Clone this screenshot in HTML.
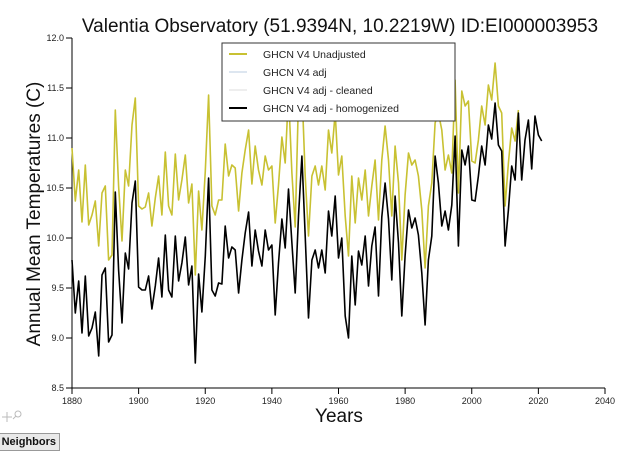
<!DOCTYPE html>
<html><head><meta charset="utf-8"><style>
body{margin:0;background:#fff;width:639px;height:449px;overflow:hidden;position:relative;font-family:"Liberation Sans",sans-serif}
svg{position:absolute;left:0;top:0}
.btn{position:absolute;left:-2px;top:433px;width:62px;height:18px;background:#e9e9e9;border:1px solid #999;box-sizing:border-box;overflow:hidden;white-space:nowrap}
.btn span{position:absolute;right:3px;top:0;font:bold 11px "Liberation Sans",sans-serif;line-height:17px;color:#111;white-space:nowrap}
</style></head><body>
<svg width="639" height="449">
<g id="axes"></g>
<g id="lines"></g>
<text x="340" y="32" font-size="19" text-anchor="middle" fill="#111">Valentia Observatory (51.9394N, 10.2219W) ID:EI000003953</text>
<text x="339" y="422" font-size="19" text-anchor="middle" fill="#111">Years</text>
<text transform="translate(40,214) rotate(-90)" font-size="19" text-anchor="middle" fill="#111">Annual Mean Temperatures (C)</text>
<g>
<rect x="222" y="43" width="233" height="78" fill="#fff" stroke="#333" stroke-width="1"/>
<g id="legend"></g>
</g>
<g fill="none" stroke="#bbb" stroke-width="1">
<path d="M2 417h10M7 412v10"/><circle cx="18" cy="414" r="3"/><path d="M16 416l-3 3"/>
</g>
</svg>
<div class="btn"><span>Nearest Neighbors</span></div>
<script>
const years0 = 1880;
const unadjusted = [10.9,10.37,10.68,10.16,10.73,10.13,10.23,10.37,9.92,10.45,10.52,9.78,9.83,11.28,10.52,9.97,10.68,10.52,11.13,11.4,10.32,10.29,10.31,10.45,10.12,10.4,10.62,10.23,10.86,10.32,10.23,10.84,10.38,10.58,10.83,10.35,10.54,9.63,10.47,10.08,10.67,11.43,10.32,10.23,10.38,10.38,10.94,10.62,10.73,10.7,10.27,10.65,10.88,11.08,10.54,10.92,10.68,10.53,10.82,10.68,10.72,10.15,10.53,11.01,10.75,11.45,10.65,10.11,11.4,11.5,10.62,10.02,10.62,10.72,10.53,10.72,10.48,11.08,10.85,11.25,10.63,10.82,10.22,9.82,10.62,10.15,10.6,10.38,10.68,10.22,10.52,10.78,10.18,10.78,11.12,10.78,10.22,10.92,10.55,9.78,10.43,10.85,10.73,10.78,10.62,10.28,9.7,10.32,10.55,11.15,11.25,11.08,10.68,10.83,10.65,11.58,10.45,11.47,11.32,11.37,10.77,10.75,10.98,11.32,11.13,11.53,11.38,11.75,11.32,11.25,10.32,10.75,11.1,10.97,11.28];
const homogenized = [9.78,9.25,9.57,9.05,9.62,9.02,9.1,9.26,8.82,9.63,9.7,8.96,9.03,10.46,9.68,9.15,9.85,9.69,10.35,10.57,9.51,9.48,9.48,9.62,9.29,9.52,9.8,9.41,10.03,9.48,9.41,10.02,9.57,9.75,10.01,9.53,9.72,8.75,9.64,9.26,9.82,10.6,9.48,9.42,9.55,9.54,10.12,9.8,9.91,9.88,9.45,9.78,10.05,10.26,9.72,10.08,9.87,9.72,10.08,9.88,9.93,9.23,9.75,10.19,9.9,10.49,9.95,9.45,10.22,10.82,10.02,9.2,9.78,9.88,9.7,9.88,9.65,10.27,10.02,10.42,9.8,10.0,9.22,9.0,9.82,9.33,9.87,9.73,10.02,9.52,9.92,10.11,9.42,10.21,10.55,10.19,9.58,10.42,9.95,9.22,9.82,10.28,10.1,10.2,10.03,9.65,9.13,9.78,10.02,10.82,10.55,10.12,10.27,10.08,10.33,11.02,9.92,10.88,10.73,10.92,10.38,10.37,10.62,10.92,10.73,11.13,10.99,11.35,10.93,10.87,9.92,10.28,10.72,10.58,11.25,10.58,10.98,11.18,10.69,11.22,11.03,10.97];
const xTicks = [1880,1900,1920,1940,1960,1980,2000,2020,2040];
const yTicks = [8.5,9.0,9.5,10.0,10.5,11.0,11.5,12.0];
const legendLabels = ["GHCN V4 Unadjusted","GHCN V4 adj","GHCN V4 adj - cleaned","GHCN V4 adj - homogenized"];
const legendColors = ["#c8c132","#dde6f0","#eeeeee","#000"];

const NS="http://www.w3.org/2000/svg";
const X0=72,X1=605,Y0=388,Y1=38;
const xs=v=>X0+(v-1880)/(2040-1880)*(X1-X0);
const ys=v=>Y0-(v-8.5)/(12-8.5)*(Y0-Y1);
function mk(tag,attrs,parent){const e=document.createElementNS(NS,tag);for(const k in attrs)e.setAttribute(k,attrs[k]);parent.appendChild(e);return e;}
const ax=document.getElementById('axes');
const xl=mk('path',{d:`M${X0} ${Y0}H${X1}`,stroke:'#000',fill:'none'},ax);


const yl=mk('path',{d:`M${X0} ${Y1}V${Y0}`,stroke:'#000',fill:'none'},ax);


xTicks.forEach(t=>{
  const x=xs(t);
  mk('path',{d:`M${x} ${Y0}v6`,stroke:'#000'},ax);
  const tx=mk('text',{x:x,y:Y0+16,'font-size':9,'text-anchor':'middle',fill:'#222'},ax);
  tx.textContent=t;
  
  
});
yTicks.forEach(t=>{
  const y=ys(t);
  mk('path',{d:`M${X0-6} ${y}h6`,stroke:'#000'},ax);
  const tx=mk('text',{x:X0-8,y:y+3,'font-size':9,'text-anchor':'end',fill:'#222'},ax);
  tx.textContent=t.toFixed(1);
  
  
});
const lg=document.getElementById('lines');
function series(vals,color,name){
  const d=vals.map((v,i)=>(i?'L':'M')+xs(years0+i).toFixed(1)+' '+ys(v).toFixed(1)).join('');
  const p=mk('path',{d:d,stroke:color,'stroke-width':1.6,fill:'none','stroke-linejoin':'round'},lg);
  
  
}
series(unadjusted,'#c8c132','unadjusted-line');
series(homogenized,'#000','homogenized-line');
const leg=document.getElementById('legend');
legendLabels.forEach((l,i)=>{
  const y=54+i*18;
  mk('path',{d:`M229 ${y}h18`,stroke:legendColors[i],'stroke-width':2},leg);
  const t=mk('text',{x:263,y:y+4,'font-size':10.5,fill:'#222'},leg);
  t.textContent=l;
  
  
});
</script>
</body></html>
